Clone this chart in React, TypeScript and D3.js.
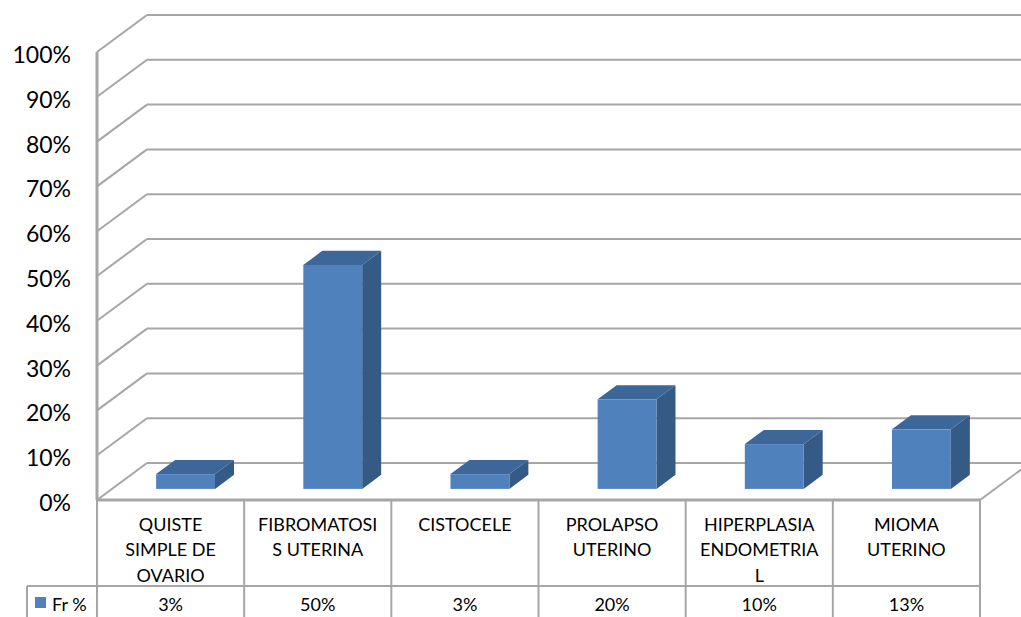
import React from 'react'
import * as d3 from 'd3'

const categories = [
  'QUISTE SIMPLE DE OVARIO',
  'FIBROMATOSIS UTERINA',
  'CISTOCELE',
  'PROLAPSO UTERINO',
  'HIPERPLASIA ENDOMETRIAL',
  'MIOMA UTERINO',
]
// how the labels wrap inside the table cells
const categoryLines = [
  ['QUISTE', 'SIMPLE DE', 'OVARIO'],
  ['FIBROMATOSI', 'S UTERINA'],
  ['CISTOCELE'],
  ['PROLAPSO', 'UTERINO'],
  ['HIPERPLASIA', 'ENDOMETRIA', 'L'],
  ['MIOMA', 'UTERINO'],
]
const values = [3.3, 50, 3.3, 20, 10, 13.3]
const seriesName = 'Fr %'
const yTicks = [0, 10, 20, 30, 40, 50, 60, 70, 80, 90, 100]

const W = 1021
const H = 617
const depthX = 50
const depthY = -37
const barNear = 0.3
const barFar = 0.68

const front = '#4F81BD'
const topColor = '#3D6699'
const sideColor = '#355A86'
const grid = '#A6A6A6'
const font = 'Lato, Calibri, "Liberation Sans", sans-serif'

const App: React.FC = () => {
  const x = d3.scaleBand<string>().domain(categories).range([97, 980])
  const y = d3.scaleLinear().domain([0, 100]).range([500, 52])
  const bw = x.bandwidth()
  const fmt = (v: number) => `${Math.round(v)}%`

  const ddx = (barFar - barNear) * depthX
  const ddy = (barFar - barNear) * depthY

  return (
    <div style={{ position: 'absolute', left: 0, top: 0 }}>
      <svg width={W} height={H} style={{ display: 'block', background: '#fff' }}>
        {/* back wall gridlines + side wall diagonals */}
        <g stroke={grid} strokeWidth={2} fill="none">
          {yTicks.map((t) => (
            <g key={t}>
              <line x1={97} y1={y(t)} x2={97 + depthX} y2={y(t) + depthY} />
              <line x1={97 + depthX} y1={y(t) + depthY} x2={980 + depthX} y2={y(t) + depthY} />
            </g>
          ))}
          <line x1={980} y1={y(0)} x2={980 + depthX} y2={y(0) + depthY} />
          <line x1={97} y1={y(100)} x2={97} y2={y(0)} strokeWidth={3} />
        </g>

        {/* bars */}
        {categories.map((c, i) => {
          const l = (x(c) as number) + 0.3 * bw + barNear * depthX
          const r = l + 0.4 * bw
          const b = y(0) + barNear * depthY
          const t = y(values[i]) + barNear * depthY
          return (
            <g key={c}>
              <polygon
                points={`${r},${t} ${r + ddx},${t + ddy} ${r + ddx},${b + ddy} ${r},${b}`}
                fill={sideColor}
              />
              <polygon
                points={`${l},${t} ${r},${t} ${r + ddx},${t + ddy} ${l + ddx},${t + ddy}`}
                fill={topColor}
              />
              <rect x={l} y={t} width={r - l} height={b - t} fill={front} />
            </g>
          )
        })}

        {/* y axis labels */}
        {yTicks.map((t) => (
          <text
            key={t}
            x={71}
            y={y(t) + 2}
            textAnchor="end"
            dominantBaseline="central"
            fontFamily={font}
            fontSize={23}
            fill="#000"
          >
            {t}%
          </text>
        ))}

        {/* data table */}
        <g stroke={grid} strokeWidth={2} fill="none">
          <line x1={97} y1={y(0)} x2={980} y2={y(0)} strokeWidth={3} />
          <line x1={27} y1={586} x2={980} y2={586} />
          <line x1={27} y1={586} x2={27} y2={H} />
          {categories.map((c) => (
            <line key={c} x1={x(c) as number} y1={y(0)} x2={x(c) as number} y2={H} />
          ))}
          <line x1={980} y1={y(0)} x2={980} y2={H} />
        </g>
        {categories.map((c, i) => (
          <g key={c} fontFamily={font} fontSize={18} fill="#000" textAnchor="middle">
            {categoryLines[i].map((ln, j) => (
              <text key={j} x={(x(c) as number) + bw / 2} y={523.5 + j * 25.5} dominantBaseline="central">
                {ln}
              </text>
            ))}
            <text x={(x(c) as number) + bw / 2} y={603.5} dominantBaseline="central">
              {fmt(values[i])}
            </text>
          </g>
        ))}
        <rect x={35} y={597} width={11} height={11} fill={front} />
        <text x={52} y={603.5} dominantBaseline="central" fontFamily={font} fontSize={18} fill="#000">
          {seriesName}
        </text>
      </svg>
    </div>
  )
}

export default App
